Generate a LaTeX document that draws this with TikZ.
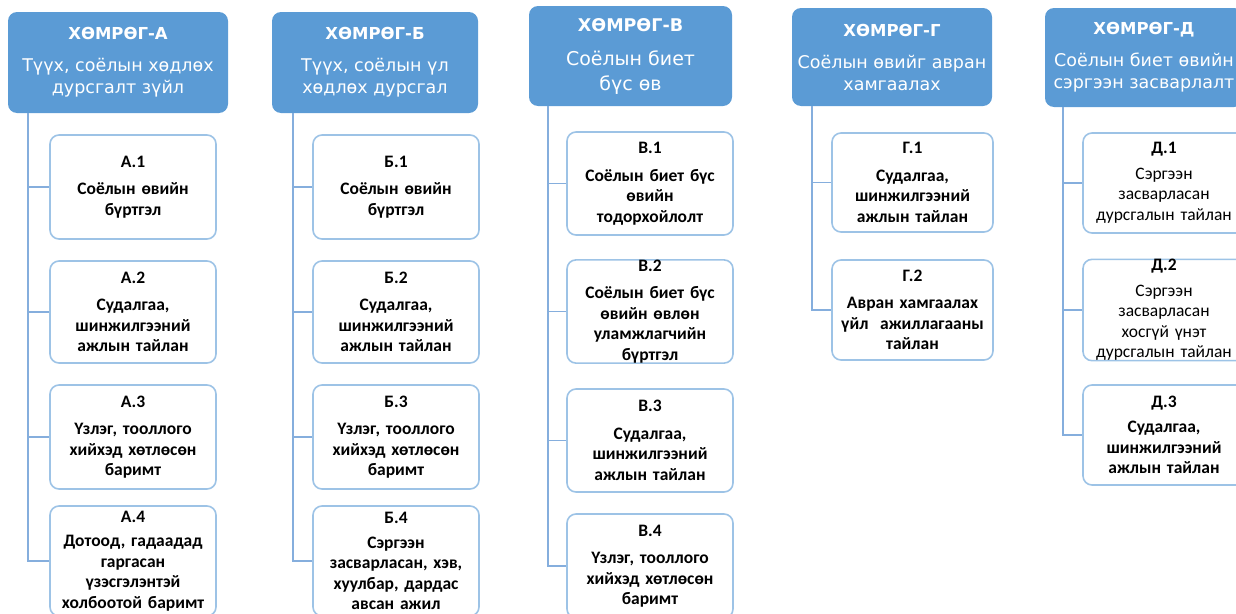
\documentclass[tikz,border=0pt]{standalone}
\usepackage{fontspec}
\setmainfont{Carlito}
\newfontfamily\hdrfont{DejaVu Sans}
\usetikzlibrary{positioning}
\definecolor{hdrblue}{HTML}{5B9BD5}
\definecolor{leafline}{HTML}{9DC3E6}
\definecolor{linkblue}{HTML}{85AEDD}

\begin{document}
\begin{tikzpicture}[x=1pt, y=-1pt,
    hdr/.style={fill=hdrblue, rounded corners=9pt, text=white, align=center,
        inner sep=0pt, font=\hdrfont\fontsize{17.5}{22}\selectfont},
    leaf/.style={draw=leafline, line width=1.6pt, rounded corners=9pt, fill=white,
        align=center, text width=158pt, inner sep=0pt, minimum width=166pt,
        font=\bfseries\fontsize{17.5}{20.5}\selectfont},
    link/.style={draw=linkblue, line width=1.4pt}]
    \useasboundingbox (0,0) rectangle (1236,613);
    \clip (0,0) rectangle (1236,613);

    % Column A
    \node[hdr, minimum width=220pt, minimum height=101pt] (hA) at (118,62.5)
        {\textbf{\fontsize{16.5}{20}\selectfont ХӨМРӨГ-А}\\[10pt] Түүх, соёлын хөдлөх\\ дурсгалт зүйл};
    \coordinate (tA) at (28,113);
    \node[leaf, minimum height=104pt] (a1) at (133,187) {А.1\\[7pt] Соёлын өвийн\\ бүртгэл};
    \node[leaf, minimum height=102pt] (a2) at (133,312) {А.2\\[7pt] Судалгаа,\\ шинжилгээний\\ ажлын тайлан};
    \node[leaf, minimum height=104pt] (a3) at (133,437) {А.3\\[7pt] Үзлэг, тооллого\\ хийхэд хөтлөсөн\\ баримт};
    \node[leaf, minimum height=110pt] (a4) at (133,561) {А.4\\[4pt] Дотоод, гадаадад\\ гаргасан\\ үзэсгэлэнтэй\\ холбоотой баримт};
    \draw[link] (tA) |- (a4.west);
    \draw[link] (tA) |- (a1.west);
    \draw[link] (tA) |- (a2.west);
    \draw[link] (tA) |- (a3.west);

    % Column B
    \node[hdr, minimum width=206pt, minimum height=101pt] (hB) at (375,62.5)
        {\textbf{\fontsize{16.5}{20}\selectfont ХӨМРӨГ-Б}\\[10pt] Түүх, соёлын үл\\ хөдлөх дурсгал};
    \coordinate (tB) at (293,113);
    \node[leaf, minimum height=104pt] (b1) at (396,187) {Б.1\\[7pt] Соёлын өвийн\\ бүртгэл};
    \node[leaf, minimum height=102pt] (b2) at (396,312) {Б.2\\[7pt] Судалгаа,\\ шинжилгээний\\ ажлын тайлан};
    \node[leaf, minimum height=104pt] (b3) at (396,437) {Б.3\\[7pt] Үзлэг, тооллого\\ хийхэд хөтлөсөн\\ баримт};
    \node[leaf, minimum height=110pt] (b4) at (396,561) {Б.4\\[4pt] Сэргээн\\ засварласан, хэв,\\ хуулбар, дардас\\ авсан ажил};
    \draw[link] (tB) |- (b4.west);
    \draw[link] (tB) |- (b1.west);
    \draw[link] (tB) |- (b2.west);
    \draw[link] (tB) |- (b3.west);

    % Column V
    \node[hdr, minimum width=203pt, minimum height=100pt,
        font=\hdrfont\fontsize{19}{25}\selectfont] (hV) at (630.5,56)
        {\textbf{\fontsize{17.5}{20}\selectfont ХӨМРӨГ-В}\\[9pt] Соёлын биет\\ бүс өв};
    \coordinate (tV) at (548,106);
    \node[leaf, minimum height=103pt] (v1) at (650,183.5) {В.1\\[7pt] Соёлын биет бүс\\ өвийн\\ тодорхойлолт};
    \node[leaf, minimum height=103pt] (v2) at (650,311.5) {В.2\\[7pt] Соёлын биет бүс\\ өвийн өвлөн\\ уламжлагчийн\\ бүртгэл};
    \node[leaf, minimum height=103pt] (v3) at (650,440.5) {В.3\\[7pt] Судалгаа,\\ шинжилгээний\\ ажлын тайлан};
    \node[leaf, minimum height=104pt] (v4) at (650,566) {В.4\\[7pt] Үзлэг, тооллого\\ хийхэд хөтлөсөн\\ баримт};
    \draw[link] (tV) |- (v4.west);
    \draw[link] (tV) |- (v1.west);
    \draw[link] (tV) |- (v2.west);
    \draw[link] (tV) |- (v3.west);

    % Column G
    \node[hdr, minimum width=200pt, minimum height=98pt] (hG) at (892,57)
        {\textbf{\fontsize{16.5}{20}\selectfont ХӨМРӨГ-Г}\\[10pt] Соёлын өвийг авран\\ хамгаалах};
    \coordinate (tG) at (812,106);
    \node[leaf, minimum width=161pt, minimum height=99pt] (g1) at (912.5,182.5) {Г.1\\[7pt] Судалгаа,\\ шинжилгээний\\ ажлын тайлан};
    \node[leaf, minimum width=161pt, minimum height=100pt] (g2) at (912.5,310) {Г.2\\[7pt] Авран хамгаалах\\ үйл~ ажиллагааны\\ тайлан};
    \draw[link] (tG) |- (g2.west);
    \draw[link] (tG) |- (g1.west);

    % Column D
    \node[hdr, minimum width=198pt, minimum height=99pt] (hD) at (1144,57.5)
        {\textbf{\fontsize{16.5}{20}\selectfont ХӨМРӨГ-Д}\\[10pt] Соёлын биет өвийн\\ сэргээн засварлалт};
    \coordinate (tD) at (1063,107);
    \node[leaf, minimum width=162pt, minimum height=100pt] (d1) at (1164,183) {Д.1\\[5pt] \mdseries Сэргээн\\ засварласан\\ дурсгалын тайлан};
    \node[leaf, minimum width=162pt, minimum height=100pt] (d2) at (1164,310) {Д.2\\[5pt] \mdseries Сэргээн\\ засварласан\\ хосгүй үнэт\\ дурсгалын тайлан};
    \node[leaf, minimum width=162pt, minimum height=100pt] (d3) at (1164,435) {Д.3\\[5pt] Судалгаа,\\ шинжилгээний\\ ажлын тайлан};
    \draw[link] (tD) |- (d3.west);
    \draw[link] (tD) |- (d1.west);
    \draw[link] (tD) |- (d2.west);
\end{tikzpicture}
\end{document}
